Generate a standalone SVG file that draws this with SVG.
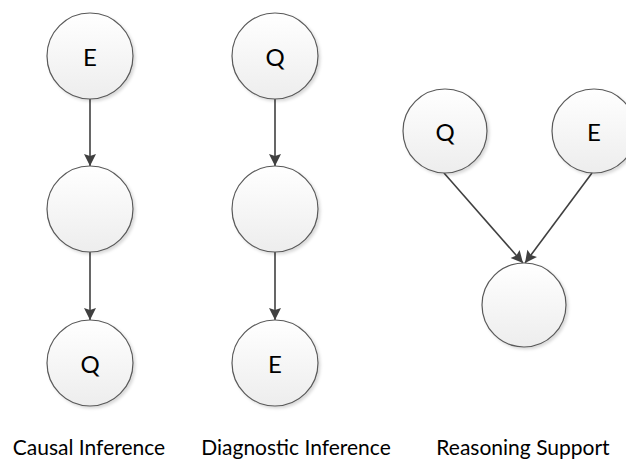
<svg xmlns="http://www.w3.org/2000/svg" width="626" height="460" viewBox="0 0 626 460">
<style>
.node circle{fill:url(#g);stroke:#595959;stroke-width:1.2;filter:url(#sh)}
.node text{font-family:Lato,"Liberation Sans",sans-serif;font-size:24px;fill:#000;text-anchor:middle;dominant-baseline:central}
.edge{stroke:#404040;stroke-width:1.6;fill:none;marker-end:url(#ah)}
.lbl{font-family:Lato,"Liberation Sans",sans-serif;font-size:21px;fill:#000;text-anchor:middle}
</style>
<defs>
<linearGradient id="g" x1="0" y1="0" x2="0" y2="1">
<stop offset="0" stop-color="#ffffff"/>
<stop offset="1" stop-color="#ededed"/>
</linearGradient>
<filter id="sh" x="-20%" y="-20%" width="150%" height="150%">
<feDropShadow dx="2" dy="2" stdDeviation="1.5" flood-color="#000" flood-opacity="0.15"/>
</filter>
<marker id="ah" viewBox="0 0 12 12" refX="12" refY="6" markerWidth="12" markerHeight="12" markerUnits="userSpaceOnUse" orient="auto" style="overflow:visible">
<path d="M0,0 L12,6 L0,12 L2,6 z" fill="#404040"/>
</marker>
</defs>
<rect width="626" height="460" fill="#fff"/>
<g id="connectors">
<line class="edge" x1="90" y1="99" x2="90" y2="166"/>
<line class="edge" x1="90" y1="252" x2="90" y2="320"/>
<line class="edge" x1="275" y1="99" x2="275" y2="166"/>
<line class="edge" x1="275" y1="252" x2="275" y2="320"/>
<line class="edge" x1="444" y1="173" x2="523" y2="263"/>
<line class="edge" x1="592" y1="173" x2="525" y2="263"/>
</g>
<g id="c1-E" class="node"><circle cx="90" cy="56" r="43"/><text x="90" y="56">E</text></g>
<g id="c1-mid" class="node"><circle cx="90" cy="209" r="43"/></g>
<g id="c1-Q" class="node"><circle cx="90" cy="363" r="43"/><text x="90" y="363">Q</text></g>
<g id="c2-Q" class="node"><circle cx="275" cy="56" r="43"/><text x="275" y="56">Q</text></g>
<g id="c2-mid" class="node"><circle cx="275" cy="209" r="43"/></g>
<g id="c2-E" class="node"><circle cx="275" cy="363" r="43"/><text x="275" y="363">E</text></g>
<g id="c3-Q" class="node"><circle cx="445" cy="131" r="42"/><text x="445" y="131">Q</text></g>
<g id="c3-E" class="node"><circle cx="594" cy="131" r="42"/><text x="594" y="131">E</text></g>
<g id="c3-bot" class="node"><circle cx="524" cy="305" r="42"/></g>
<g id="labels">
<text class="lbl" x="89" y="455">Causal Inference</text>
<text class="lbl" x="296" y="455">Diagnostic Inference</text>
<text class="lbl" x="523" y="455">Reasoning Support</text>
</g>
</svg>
